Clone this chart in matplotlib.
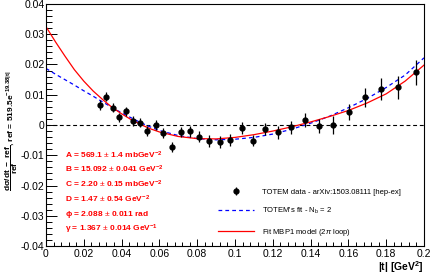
import numpy as np
import matplotlib
matplotlib.use("Agg")
import matplotlib.pyplot as plt
from matplotlib.ticker import MultipleLocator

plt.rcParams['font.family'] = ['Liberation Sans', 'DejaVu Sans']
plt.rcParams['mathtext.fontset'] = 'custom'
plt.rcParams['mathtext.rm'] = 'Liberation Sans'
plt.rcParams['mathtext.bf'] = 'Liberation Sans:bold'
plt.rcParams['mathtext.it'] = 'Liberation Sans:italic'

# TOTEM data points (|t|, residual, error)
t_data = [0.0287, 0.0319, 0.0353, 0.0387, 0.0422, 0.0459, 0.0496, 0.0537, 0.0580, 0.0621,
          0.0666, 0.0713, 0.0761, 0.0811, 0.0865, 0.0920, 0.0975, 0.1036, 0.1096, 0.1161,
          0.1227, 0.1297, 0.1369, 0.1443, 0.1521, 0.1601, 0.1686, 0.1774, 0.1863, 0.1960]
y_data = [0.0066, 0.0094, 0.0057, 0.0025, 0.0045, 0.0013, 0.0008, -0.0020, 0.0001, -0.0026,
          -0.0073, -0.0023, -0.0021, -0.0039, -0.0053, -0.0057, -0.0049, -0.0010, -0.0052, -0.0013,
          -0.0024, -0.0008, 0.0016, -0.0004, 0.0001, 0.0043, 0.0092, 0.0120, 0.0125, 0.0174]
y_err = [0.0015, 0.0015, 0.0015, 0.0015, 0.0016, 0.0016, 0.0016, 0.0017, 0.0017, 0.0017,
         0.0017, 0.0018, 0.0018, 0.0018, 0.0019, 0.0019, 0.0019, 0.0020, 0.0019, 0.0020,
         0.0021, 0.0022, 0.0023, 0.0024, 0.0030, 0.0028, 0.0031, 0.0036, 0.0038, 0.0041]

# fit curves
t_fit = [0, 0.005, 0.01, 0.015, 0.02, 0.025, 0.03, 0.035, 0.04, 0.045, 0.05, 0.055, 0.06,
         0.07, 0.08, 0.09, 0.10, 0.11, 0.12, 0.13, 0.14, 0.15, 0.16, 0.17, 0.18, 0.19, 0.20]
mbp1 = [0.0325, 0.0275, 0.0228, 0.0183, 0.0145, 0.0112, 0.0084, 0.0058, 0.0037, 0.0018, 0.0002,
        -0.0012, -0.0023, -0.0038, -0.0045, -0.0046, -0.0041, -0.0032, -0.0020, -0.0006, 0.0010,
        0.0028, 0.0048, 0.0073, 0.0103, 0.0145, 0.0198]
totem_fit = [0.0187, 0.0168, 0.0150, 0.0132, 0.0113, 0.0095, 0.0076, 0.0058, 0.0040, 0.0024, 0.0008,
             -0.0006, -0.0018, -0.0035, -0.0045, -0.0049, -0.0047, -0.0041, -0.0030, -0.0014, 0.0006,
             0.0029, 0.0057, 0.0088, 0.0124, 0.0165, 0.0222]

params = [r'A = 569.1 $\pm$ 1.4 mbGeV$^{\mathbf{-2}}$',
          r'B = 15.092 $\pm$ 0.041 GeV$^{\mathbf{-2}}$',
          r'C = 2.20 $\pm$ 0.15 mbGeV$^{\mathbf{-2}}$',
          r'D = 1.47 $\pm$ 0.54 GeV$^{\mathbf{-2}}$',
          r'ϕ = 2.088 $\pm$ 0.011 rad',
          r'γ = 1.367 $\pm$ 0.014 GeV$^{\mathbf{-1}}$']

fig = plt.figure(figsize=(4.31, 2.74), dpi=100)
ax = fig.add_axes([46/431, 1-246/274, 378/431, 242/274])

ax.axhline(0, color='k', lw=0.8, dashes=(3.5, 2.5))
ax.plot(t_fit, totem_fit, color='#0000ff', lw=0.9, dashes=(3, 2.5), label="TOTEM's fit - N$_{\\mathrm{b}}$ = 2")
ax.plot(t_fit, mbp1, color='#ff0000', lw=0.9, label=r'Fit MBP1 model (2$\pi$ loop)')
ax.errorbar(t_data, y_data, yerr=y_err, fmt='o', color='k', ms=3.5, elinewidth=0.9, capsize=0,
            label='TOTEM data - arXiv:1503.08111 [hep-ex]')

ax.set_xlim(0, 0.2)
ax.set_ylim(-0.04, 0.04)
ax.xaxis.set_major_locator(MultipleLocator(0.02))
ax.xaxis.set_minor_locator(MultipleLocator(0.004))
ax.yaxis.set_major_locator(MultipleLocator(0.01))
ax.yaxis.set_minor_locator(MultipleLocator(0.002))
ax.tick_params(which='both', direction='in', labelsize=7.5, width=0.7)
ax.tick_params(axis='y', which='major', length=8, pad=1)
ax.tick_params(axis='y', which='minor', length=4)
ax.tick_params(axis='x', which='major', length=5, pad=2)
ax.tick_params(axis='x', which='minor', length=2.6)
ax.xaxis.set_major_formatter(plt.FuncFormatter(lambda v, p: '0' if abs(v) < 1e-9 else ('%g' % v)))
ax.yaxis.set_major_formatter(plt.FuncFormatter(lambda v, p: '0' if abs(v) < 1e-9 else ('%g' % v)))
for s in ax.spines.values():
    s.set_linewidth(0.8)

ax.set_xlabel(r'|t| [GeV$^{\mathbf{2}}$]', fontsize=7.5, fontweight='bold')
ax.xaxis.set_label_coords(1.0, -0.055)
ax.xaxis.label.set_horizontalalignment('right')
ax.set_ylabel(r'$\mathbf{\dfrac{d\sigma/dt\ -\ ref}{ref}}$, ref = 519.5e$^{\mathbf{-19.38|t|}}$',
              fontsize=6, fontweight='bold')
ax.yaxis.set_label_coords(-0.068, 0.475)

for i, s in enumerate(params):
    fig.text(65/431, 1-(155 + 14.8*i)/274, s, color='#ff0000', fontsize=6, fontweight='bold',
             va='center', ha='left')

h, l = ax.get_legend_handles_labels()
order = [2, 0, 1]
leg = ax.legend([h[i] for i in order], [l[i] for i in order], loc='upper left',
                bbox_to_anchor=(0.455, 0.238), frameon=False, fontsize=5.5, borderpad=0,
                borderaxespad=0, handlelength=4.7, handletextpad=1.1, labelspacing=1.35)

fig.savefig('out.png', dpi=100)
